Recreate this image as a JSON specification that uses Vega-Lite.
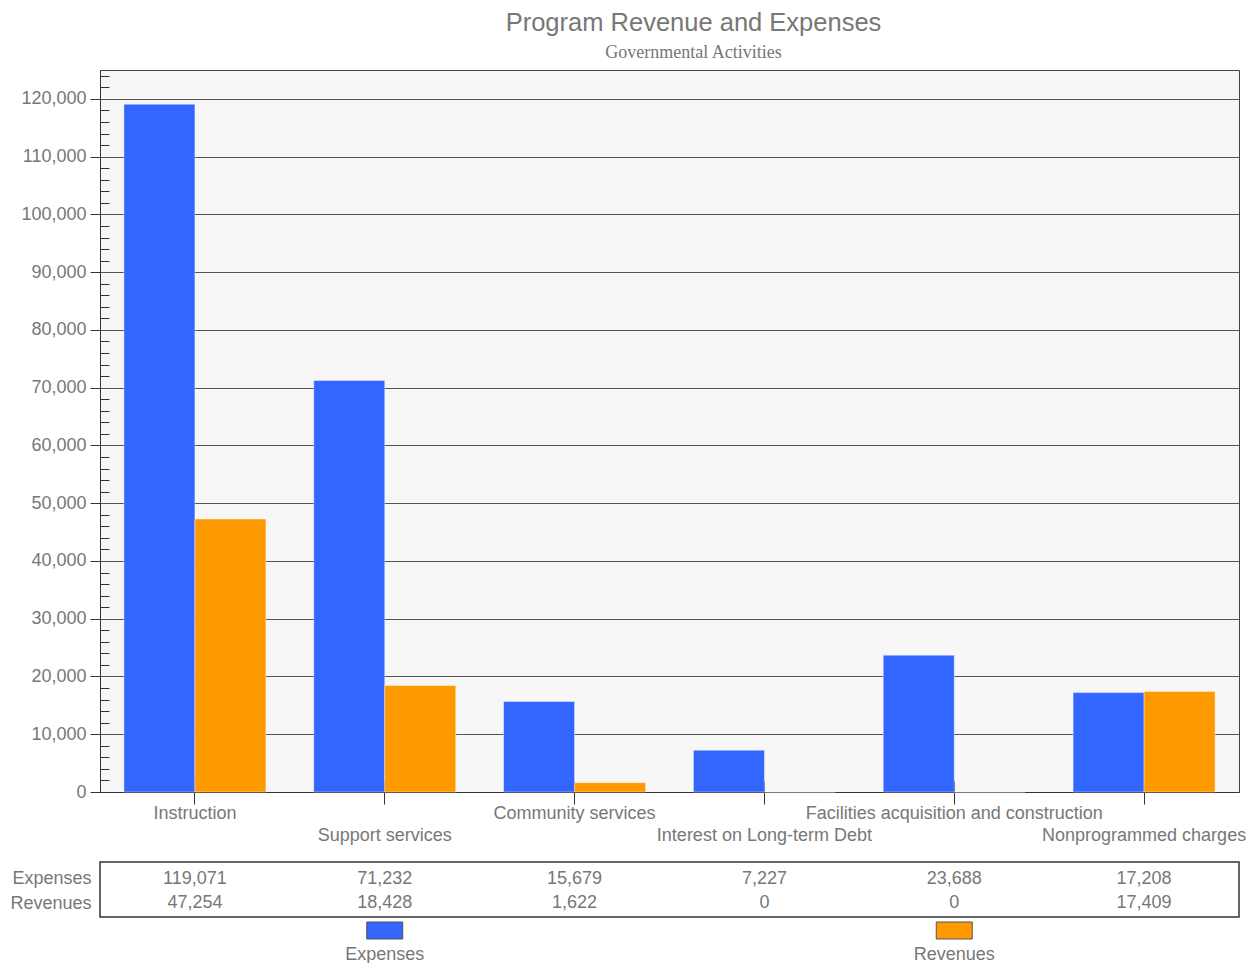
{
  "$schema": "https://vega.github.io/schema/vega-lite/v6.json",
  "padding": {"left": 9, "top": 10, "right": 8, "bottom": 0},
  "background": "white",
  "title": {
    "text": "Program Revenue and Expenses",
    "subtitle": "Governmental Activities",
    "font": "Liberation Sans",
    "fontSize": 25.5,
    "fontWeight": "normal",
    "color": "#777777",
    "subtitleFont": "Liberation Serif",
    "subtitleFontSize": 18,
    "subtitleColor": "#777777",
    "subtitlePadding": 8,
    "anchor": "middle",
    "frame": "group",
    "dx": 24,
    "offset": 4
  },
  "config": {
    "font": "Liberation Sans",
    "view": {"stroke": "#444444", "fill": "#f7f7f7"},
    "axis": {
      "labelFont": "Liberation Sans",
      "labelFontSize": 18,
      "labelColor": "#777777",
      "domainColor": "#333333",
      "tickColor": "#333333",
      "title": null
    }
  },
  "datasets": {
    "main": [
      {"category": "Instruction", "series": "Expenses", "value": 119071},
      {"category": "Instruction", "series": "Revenues", "value": 47254},
      {"category": "Support services", "series": "Expenses", "value": 71232},
      {"category": "Support services", "series": "Revenues", "value": 18428},
      {"category": "Community services", "series": "Expenses", "value": 15679},
      {"category": "Community services", "series": "Revenues", "value": 1622},
      {"category": "Interest on Long-term Debt", "series": "Expenses", "value": 7227},
      {"category": "Interest on Long-term Debt", "series": "Revenues", "value": 0},
      {"category": "Facilities acquisition and construction", "series": "Expenses", "value": 23688},
      {"category": "Facilities acquisition and construction", "series": "Revenues", "value": 0},
      {"category": "Nonprogrammed charges", "series": "Expenses", "value": 17208},
      {"category": "Nonprogrammed charges", "series": "Revenues", "value": 17409}
    ],
    "legend": [
      {"series": "Expenses"},
      {"series": "Revenues"}
    ]
  },
  "bounds": "flush",
  "spacing": 70,
  "vconcat": [
    {
      "width": 1139,
      "height": 722,
      "data": {"name": "main"},
      "layer": [
        {
          "mark": {"type": "bar", "stroke": "#ffffff", "strokeOpacity": 0.4, "strokeWidth": 1},
          "encoding": {
            "x": {
              "field": "category", "type": "nominal", "sort": null,
              "scale": {"paddingInner": 0, "paddingOuter": 0},
              "axis": {
                "orient": "bottom",
                "labelAngle": 0,
                "labelLimit": 0,
                "labelOverlap": false,
                "labelBaseline": "top",
                "tickSize": 12,
                "labelPadding": {"expr": "round(datum.index * 5) % 2 === 1 ? 22 : 0"},
                "grid": false
              }
            },
            "xOffset": {
              "field": "series", "type": "nominal",
              "scale": {"domain": ["Expenses", "Revenues"], "paddingInner": 0, "paddingOuter": 0.337}
            },
            "y": {
              "field": "value", "type": "quantitative",
              "scale": {"domain": [0, 125000], "nice": false},
              "axis": {
                "values": [0, 2000, 4000, 6000, 8000, 10000, 12000, 14000, 16000, 18000, 20000, 22000, 24000, 26000, 28000, 30000, 32000, 34000, 36000, 38000, 40000, 42000, 44000, 46000, 48000, 50000, 52000, 54000, 56000, 58000, 60000, 62000, 64000, 66000, 68000, 70000, 72000, 74000, 76000, 78000, 80000, 82000, 84000, 86000, 88000, 90000, 92000, 94000, 96000, 98000, 100000, 102000, 104000, 106000, 108000, 110000, 112000, 114000, 116000, 118000, 120000, 122000, 124000],
                "tickCount": 200,
                "labelExpr": "datum.value % 10000 === 0 ? format(datum.value, ',') : ''",
                "tickSize": {"expr": "datum.value % 10000 === 0 ? 10 : -9"},
                "labelPadding": 4,
                "grid": true,
                "gridColor": "#555555",
                "gridWidth": 1,
                "gridOpacity": {"condition": {"test": "datum.value % 10000 === 0 && datum.value > 0", "value": 1}, "value": 0},
                "labelOverlap": false
              }
            },
            "color": {
              "field": "series", "type": "nominal",
              "scale": {"domain": ["Expenses", "Revenues"], "range": ["#3366ff", "#ff9900"]},
              "legend": null
            }
          }
        },
        {
          "mark": {"type": "bar", "opacity": 0},
          "encoding": {
            "x": {
              "field": "category", "type": "nominal", "sort": null,
              "axis": {
                "orient": "bottom",
                "labels": false,
                "domain": false,
                "grid": false,
                "tickSize": -11
              }
            },
            "xOffset": {"field": "series", "type": "nominal"},
            "y": {"field": "value", "type": "quantitative"}
          }
        }
      ],
      "resolve": {"axis": {"x": "independent"}}
    },
    {
      "bounds": "flush",
      "spacing": 5,
      "vconcat": [
        {
          "width": 1139,
          "height": 55,
          "view": {"fill": "#ffffff", "stroke": "#333333", "strokeWidth": 1.5},
          "data": {"name": "main"},
          "mark": {"type": "text", "fontSize": 18, "color": "#777777", "font": "Liberation Sans"},
          "encoding": {
            "x": {"field": "category", "type": "nominal", "sort": null, "scale": {"paddingInner": 0, "paddingOuter": 0}, "axis": null},
            "y": {
              "field": "series", "type": "nominal",
              "scale": {"type": "point", "domain": ["Expenses", "Revenues"], "padding": 0.613, "align": 0.554},
              "axis": {"domain": false, "ticks": false, "labelPadding": 9, "grid": false}
            },
            "text": {"field": "value", "type": "quantitative", "format": ","}
          }
        },
        {
          "width": 1139,
          "height": 17,
          "view": {"fill": null, "stroke": null},
          "data": {"name": "legend"},
          "mark": {"type": "bar", "width": 36, "stroke": "#555555", "strokeWidth": 1},
          "encoding": {
            "x": {
              "field": "series", "type": "nominal",
              "scale": {"domain": ["Expenses", "Revenues"], "paddingInner": 0, "paddingOuter": 0},
              "axis": {"labelAngle": 0, "domain": false, "ticks": false, "labelPadding": 6, "labelBaseline": "top", "grid": false}
            },
            "color": {
              "field": "series", "type": "nominal",
              "scale": {"domain": ["Expenses", "Revenues"], "range": ["#3366ff", "#ff9900"]},
              "legend": null
            }
          }
        }
      ]
    }
  ]
}
